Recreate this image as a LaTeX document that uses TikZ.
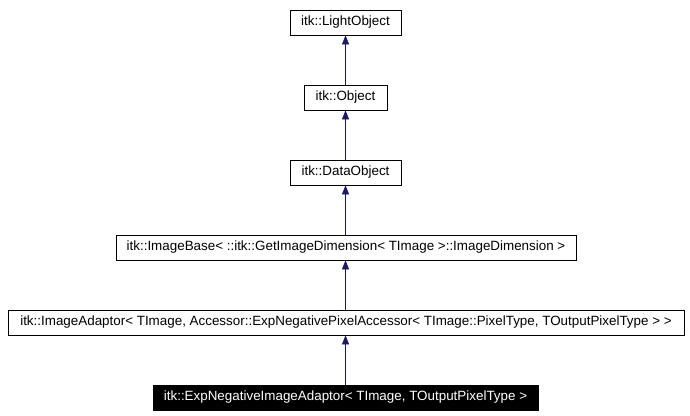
\documentclass[tikz,border=0pt]{standalone}
\usepackage{fontspec}
\setmainfont{Liberation Sans}
\usetikzlibrary{arrows.meta}
\definecolor{navy}{HTML}{191970}
\begin{document}
\begin{tikzpicture}[x=1pt,y=-1pt,
  box/.style={draw=black,fill=white,minimum height=25pt,inner sep=0pt,font=\fontsize{13.4}{15}\selectfont,line width=0.7pt},
  arr/.style={draw=navy,line width=0.7pt,-{Triangle[length=9pt,width=7pt]}}]
\useasboundingbox (0,0) rectangle (690,415);
\node[box,minimum width=111pt] (lo) at (345.5,22.5) {itk::LightObject};
\node[box,minimum width=83pt] (ob) at (345.5,97.5) {itk::Object};
\node[box,minimum width=111pt] (do) at (345.5,172.5) {itk::DataObject};
\node[box,minimum width=460pt] (ib) at (346,247.5) {itk::ImageBase< ::itk::GetImageDimension< TImage >::ImageDimension >};
\node[box,minimum width=676pt] (ia) at (346,322.5) {itk::ImageAdaptor< TImage, Accessor::ExpNegativePixelAccessor< TImage::PixelType, TOutputPixelType > >};
\node[box,fill=black,text=white,minimum width=385pt] (en) at (345.5,397.5) {itk::ExpNegativeImageAdaptor< TImage, TOutputPixelType >};
\draw[arr] (ob.north -| lo) -- (lo.south);
\draw[arr] (do.north) -- (ob.south);
\draw[arr] (ib.north -| do) -- (do.south);
\draw[arr] (ia.north -| do) -- (ib.south -| do);
\draw[arr] (en.north) -- (ia.south -| en);
\end{tikzpicture}
\end{document}
